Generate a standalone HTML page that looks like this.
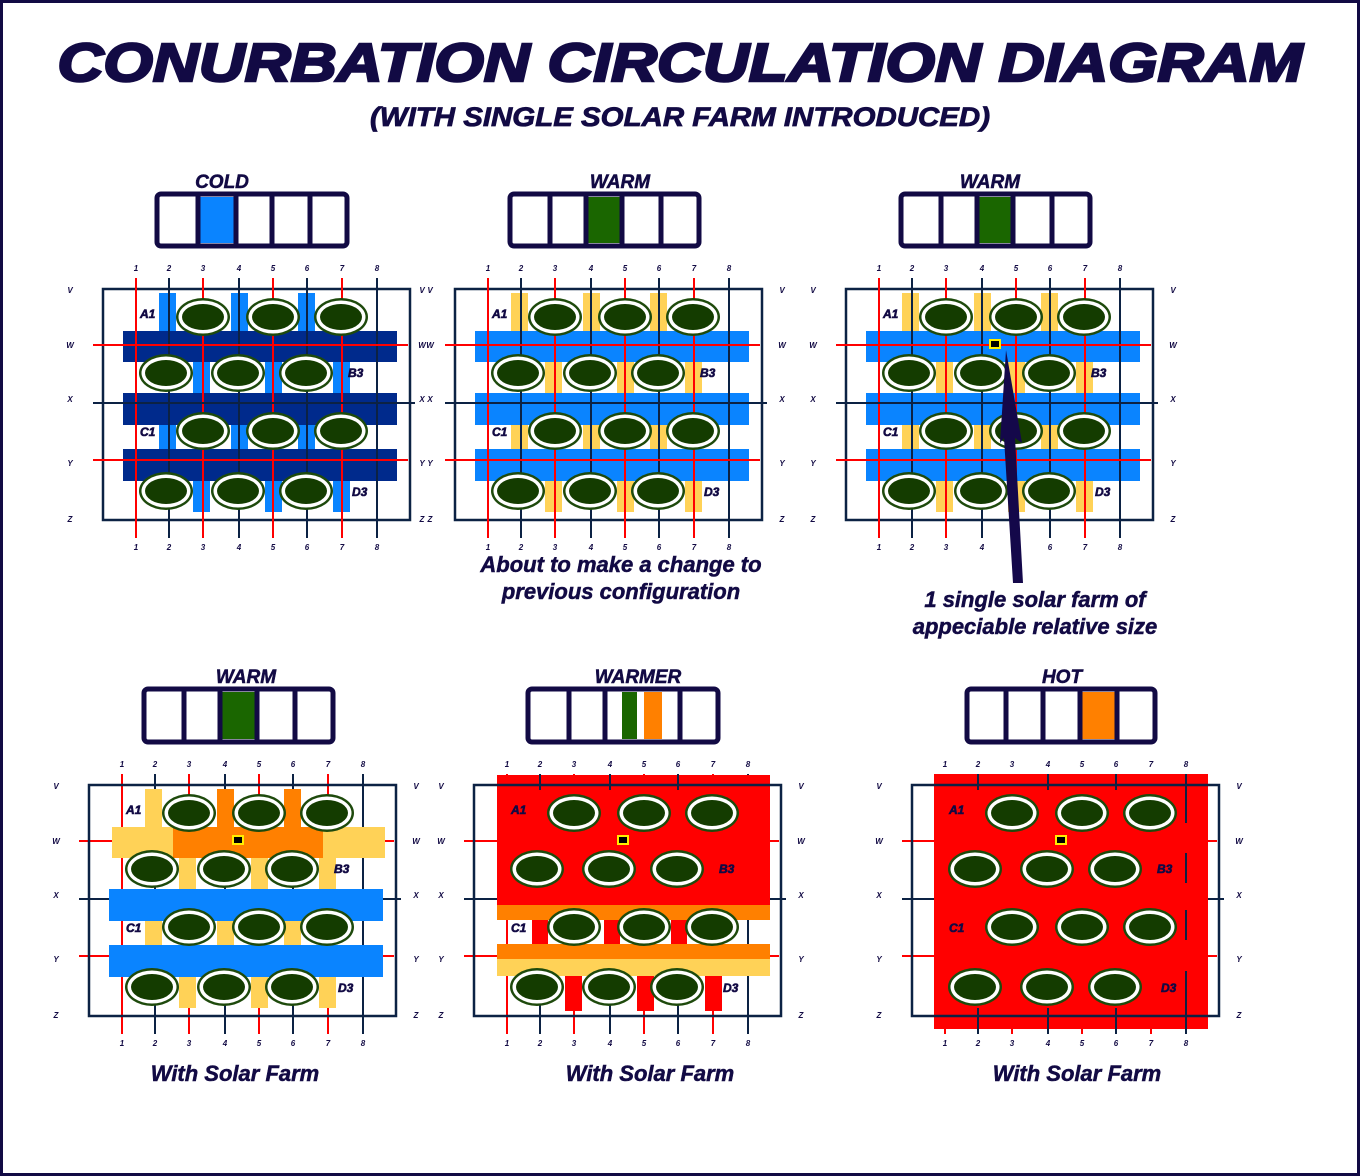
<!DOCTYPE html>
<html><head><meta charset="utf-8"><style>
html,body{margin:0;padding:0;background:#fff}
svg{display:block}
text{font-family:"Liberation Sans",sans-serif;font-weight:bold;font-style:italic;fill:#120a44}
</style></head><body>
<svg id="s" width="1360" height="1176" viewBox="0 0 1360 1176" xmlns="http://www.w3.org/2000/svg">
<rect x="1.5" y="1.5" width="1357" height="1173" fill="#fff" stroke="#120a44" stroke-width="3"/>
<text x="680" y="81" font-size="54" text-anchor="middle" textLength="1245" lengthAdjust="spacingAndGlyphs" stroke="#120a44" stroke-width="2.5">CONURBATION CIRCULATION DIAGRAM</text>
<text x="680" y="126" font-size="27" text-anchor="middle" textLength="620" lengthAdjust="spacingAndGlyphs" stroke="#120a44" stroke-width="0.8">(WITH SINGLE SOLAR FARM INTRODUCED)</text>
<g stroke="#120a44" stroke-width="0.5">
<text x="621" y="572" font-size="22" text-anchor="middle">About to make a change to</text>
<text x="621" y="599" font-size="22" text-anchor="middle">previous configuration</text>
<text x="1035" y="607" font-size="22" text-anchor="middle">1 single solar farm of</text>
<text x="1035" y="634" font-size="22" text-anchor="middle">appeciable relative size</text>
<text x="235" y="1081" font-size="22" text-anchor="middle">With Solar Farm</text>
<text x="650" y="1081" font-size="22" text-anchor="middle">With Solar Farm</text>
<text x="1077" y="1081" font-size="22" text-anchor="middle">With Solar Farm</text>
</g>
<g id="g"></g>
</svg>
<script>
var G=document.getElementById('g'),out='';
function R(x,y,w,h,f){out+='<rect x="'+x+'" y="'+y+'" width="'+w+'" height="'+h+'" fill="'+f+'"/>';}
function L(x1,y1,x2,y2,c,w){out+='<line x1="'+x1+'" y1="'+y1+'" x2="'+x2+'" y2="'+y2+'" stroke="'+c+'" stroke-width="'+(w||2)+'"/>';}
function T(x,y,s,sz,a,st){out+='<text x="'+x+'" y="'+y+'" font-size="'+sz+'"'+(a?' text-anchor="'+a+'"':'')+(st?' stroke="#120a44" stroke-width="'+st+'"':'')+'>'+s+'</text>';}
var RED="#ff0000",NAV="#0c2244",DB="#002a8c",LB="#0a84ff",YE="#ffd257",OR="#ff8000";
function gauge(x,y,w,h,lab,lx,fills,div){
  T(lx,y-6,lab,19,'middle',0.5);
  out+='<rect x="'+x+'" y="'+y+'" width="'+w+'" height="'+h+'" rx="4" fill="#fff" stroke="#120a44" stroke-width="5"/>';
  fills.forEach(function(f){R(f[0],y+3,f[1]-f[0],h-6,f[2]);});
  div.forEach(function(d){L(d,y,d,y+h,"#120a44",5);});
}
function panel(dx,dy,type){
  var cols=[136,169,203,239,273,307,342,377];
  var X=function(v){return v+dx},Y=function(v){return v+dy};
  var frame=function(){out+='<rect x="'+X(103)+'" y="'+Y(289)+'" width="307" height="231" fill="none" stroke="'+NAV+'" stroke-width="2.5"/>';};
  var lines=function(){
    cols.forEach(function(c,i){L(X(c),Y(278),X(c),Y(538),i%2?NAV:RED,2);});
    L(X(93),Y(345),X(408),Y(345),RED,2);L(X(93),Y(403),X(415),Y(403),NAV,2);L(X(93),Y(460),X(408),Y(460),RED,2);
  };
  var bA=[[159,176],[231,248],[298,315]],bB=[[193,210],[265,282],[333,350]];
  var bars=function(col,colTop){
    bA.forEach(function(b,i){R(X(b[0]),Y(293),b[1]-b[0],38,(colTop&&i>0)?colTop:col);R(X(b[0]),Y(425),b[1]-b[0],24,col);});
    bB.forEach(function(b){R(X(b[0]),Y(362),b[1]-b[0],31,col);R(X(b[0]),Y(481),b[1]-b[0],31,col);});
  };
  if(type<=3){
    bars(type==1?LB:YE);
    var bc=type==1?DB:LB;
    [[331,31],[393,32],[449,32]].forEach(function(b){R(X(123),Y(b[0]),274,b[1],bc);});
    frame();lines();
  } else if(type==4){
    lines();frame();
    bars(YE,OR);
    R(X(126),Y(331),273,31,YE);R(X(187),Y(331),150,31,OR);
    R(X(123),Y(393),274,32,LB);R(X(123),Y(449),274,32,LB);
  } else if(type==5){
    lines();
    R(X(126),Y(279),273,130,RED);R(X(126),Y(409),273,15,OR);
    [[161,177],[233,249],[300,316]].forEach(function(b){R(X(b[0]),Y(424),b[1]-b[0],24,RED);});
    R(X(126),Y(448),273,15,OR);R(X(126),Y(463),273,17,YE);
    [[194,211],[266,283],[334,351]].forEach(function(b){R(X(b[0]),Y(480),b[1]-b[0],35,RED);});
    frame();
    [169,239,307].forEach(function(c){L(X(c),Y(278),X(c),Y(294),NAV,2);});
  } else {
    lines();
    R(X(125),Y(278),274,255,RED);
    frame();
    [169,239,307].forEach(function(c){L(X(c),Y(278),X(c),Y(294),NAV,2);L(X(c),Y(512),X(c),Y(538),NAV,2);});
    L(X(377),Y(278),X(377),Y(327),NAV,2);L(X(377),Y(357),X(377),Y(387),NAV,2);L(X(377),Y(414),X(377),Y(444),NAV,2);L(X(377),Y(475),X(377),Y(538),NAV,2);
  }
  var E=[[203,317],[273,317],[341,317],[166,373],[238,373],[306,373],[203,431],[273,431],[341,431],[166,491],[238,491],[306,491]];
  E.forEach(function(e){
    var cx=X(e[0]),cy=Y(e[1]);
    out+='<ellipse cx="'+cx+'" cy="'+cy+'" rx="27" ry="19" fill="#1e4a0c"/><ellipse cx="'+cx+'" cy="'+cy+'" rx="24.5" ry="16.5" fill="#fff"/><ellipse cx="'+cx+'" cy="'+cy+'" rx="21" ry="13" fill="#143c00"/>';
  });
  if(type>=3){out+='<rect x="'+(X(252)-5)+'" y="'+(Y(344)-4)+'" width="10" height="8" fill="#000" stroke="#ffee00" stroke-width="2"/>';}
  T(X(140),Y(318),'A1',12,null,0.6);T(X(348),Y(377),'B3',12,null,0.6);T(X(140),Y(436),'C1',12,null,0.6);T(X(352),Y(496),'D3',12,null,0.6);
  cols.forEach(function(c,i){T(X(c),Y(271),String(i+1),8,'middle');T(X(c),Y(550),String(i+1),8,'middle');});
  [['V',293],['W',348],['X',402],['Y',466],['Z',522]].forEach(function(r){T(X(70),Y(r[1]),r[0],8,'middle');T(X(430),Y(r[1]),r[0],8,'middle');});
}
panel(0,0,1);panel(352,0,2);panel(743,0,3);
panel(-14,496,4);panel(371,496,5);panel(809,496,6);
gauge(157,194,190,52,'COLD',222,[[197,235,LB]],[198,236,272,310]);
gauge(510,194,189,52,'WARM',620,[[586,622,"#1a6600"]],[550,586,622,661]);
gauge(901,194,189,52,'WARM',990,[[977,1013,"#1a6600"]],[941,977,1013,1052]);
gauge(144,689,189,53,'WARM',246,[[220,257,"#1a6600"]],[184,220,257,295]);
gauge(528,689,190,53,'WARMER',638,[[622,637,"#1a6600"],[644,662,OR]],[569,605,680]);
gauge(967,689,188,53,'HOT',1062,[[1080,1117,OR]],[1006,1043,1080,1117]);
out+='<polygon points="1006,350 1022,443 1015,438 1023,583 1013,583 1004,438 1000,443" fill="#14084a"/>';
G.innerHTML=out;
</script>
</body></html>
